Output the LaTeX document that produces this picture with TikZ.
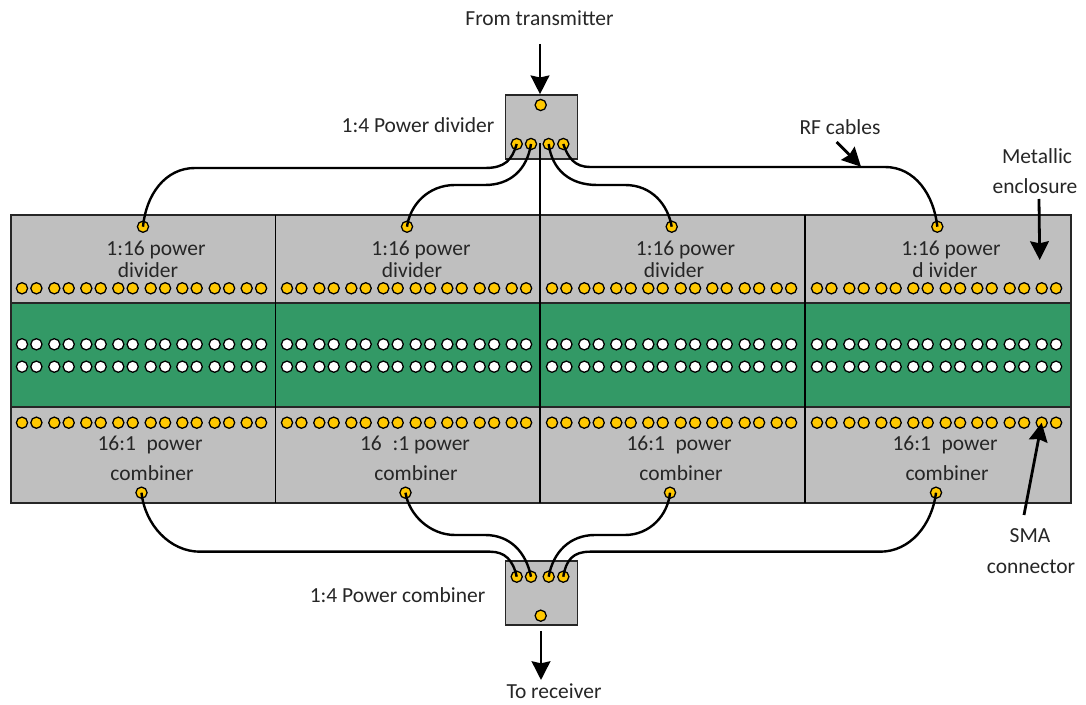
\documentclass[tikz,border=0pt]{standalone}
\usepackage{fontspec}
\setmainfont{Carlito}
\usetikzlibrary{arrows.meta}
\definecolor{boxgray}{HTML}{BFBFBF}
\definecolor{boardgreen}{HTML}{339966}
\definecolor{smayellow}{HTML}{FFC800}
\tikzset{
    port/.style={circle, draw=black, line width=0.95pt, fill=smayellow, minimum size=8.4pt, inner sep=0pt},
    hole/.style={port, fill=white},
    cable/.style={line width=1.8pt, black},
    pointer/.style={line width=2.1pt, black, -{Stealth[length=14pt, width=14pt, inset=1.5pt]}},
    label/.style={font=\fontsize{16.1pt}{18pt}\selectfont, text=black!85, inner sep=0pt},
    enclosure/.style={draw=black!85, line width=1.2pt, fill=boxgray}
}
\begin{document}
\begin{tikzpicture}[x=0.75pt, y=-0.75pt]
    \useasboundingbox (0,0) rectangle (1086,705);

    % Enclosures
    \draw[enclosure] (11,215) rectangle (1071,303);
    \draw[enclosure] (11,407) rectangle (1071,503);
    \draw[enclosure, fill=boardgreen] (11,303) rectangle (1071,407);
    \draw[line width=1.1pt] (275.5,215) -- (275.5,503);
    \draw[line width=1.9pt] (805,215) -- (805,503);

    % Connector rows of every panel
    \foreach \panel/\shift in {1/0, 2/265, 3/530, 4/795} {
        \foreach \pos [count=\i] in {22, 54.3, 86.3, 118.3, 150.7, 182.3, 214.7, 246.7} {
            \node[port] at (\pos+\shift,288.3) {};
            \node[port] at (\pos+14.4+\shift,288.3) {};
            \node[hole] at (\pos+\shift,344.3) {};
            \node[hole] at (\pos+14.4+\shift,344.3) {};
            \node[hole] at (\pos+\shift,366.7) {};
            \node[hole] at (\pos+14.4+\shift,366.7) {};
            \node[port] (sma\panel-\i) at (\pos+\shift,422.7) {};
            \node[port] at (\pos+14.4+\shift,422.7) {};
        }
    }

    % Ports of the panels
    \node[port] (in1) at (143,226.7) {};
    \node[port] (in2) at (407,226.7) {};
    \node[port] (in3) at (671.7,226.7) {};
    \node[port] (in4) at (937.3,226.7) {};
    \node[port] (out1) at (141.5,492.7) {};
    \node[port] (out2) at (405.5,492.7) {};
    \node[port] (out3) at (670,492.7) {};
    \node[port] (out4) at (936,492.7) {};

    % Power divider
    \node[enclosure, minimum width=54pt, minimum height=48pt, inner sep=0pt] (divider) at (541.3,127) {};
    \node[port] (divin) at (540.7,105) {};
    \node[port] (div1) at (516.7,144) {};
    \node[port] (div2) at (531,144) {};
    \node[port] (div3) at (548.7,144) {};
    \node[port] (div4) at (563.3,144) {};
    \draw[line width=1pt] (540,143) -- (540,503);

    % Power combiner
    \node[enclosure, minimum width=54pt, minimum height=48pt, inner sep=0pt] (combiner) at (541.3,593.3) {};
    \node[port] (comout) at (540.7,615.7) {};
    \node[port] (com1) at (516.7,576.7) {};
    \node[port] (com2) at (531,576.7) {};
    \node[port] (com3) at (548.7,576.7) {};
    \node[port] (com4) at (563.3,576.7) {};

    % RF cables
    \draw[cable] (div1.center) .. controls (512,160) and (505,168) .. (485,168) -- (195,168) .. controls (165,168) and (146,195) .. (in1.center);
    \draw[cable] (div2.center) .. controls (527,170) and (510,185) .. (485,185) -- (455,185) .. controls (428,185) and (410,205) .. (in2.center);
    \draw[cable] (div3.center) .. controls (552,170) and (570,185) .. (597,185) -- (625,185) .. controls (652,185) and (668,205) .. (in3.center);
    \draw[cable] (div4.center) .. controls (568,158) and (575,167) .. (590,167) -- (885,167) .. controls (915,167) and (934,195) .. (in4.center);
    \draw[cable] (out1.center) .. controls (145,525) and (170,551.7) .. (200,551.7) -- (490,551.7) .. controls (505,551.7) and (513,560) .. (com1.center);
    \draw[cable] (out2.center) .. controls (409,515) and (430,535) .. (455,535) -- (485,535) .. controls (510,535) and (526,552) .. (com2.center);
    \draw[cable] (com3.center) .. controls (553,552) and (570,535) .. (595,535) -- (625,535) .. controls (650,535) and (668,515) .. (out3.center);
    \draw[cable] (com4.center) .. controls (566,560) and (573,551.7) .. (590,551.7) -- (880,551.7) .. controls (910,551.7) and (932,525) .. (out4.center);

    % Texts
    \node[label] (from) at (539.5,18) {From transmitter};
    \node[label] (divlabel) at (418,125) {1:4 Power divider};
    \node[label] (rflabel) at (840,127) {RF cables};
    \node[label] (metal) at (1037,156) {Metallic};
    \node[label] (encl) at (1035,186) {enclosure};
    \node[label] (comlabel) at (397.5,595) {1:4 Power combiner};
    \node[label] (to) at (554,691) {To receiver};
    \node[label] (smalabel) at (1030,536) {SMA};
    \node[label] (smaconn) at (1031,567) {connector};

    \node[label] (power1) at (156,249.5) {1:16 power};
    \node[label] (power2) at (421,249.5) {1:16 power};
    \node[label] (power3) at (685.5,249.5) {1:16 power};
    \node[label] (power4) at (951,249.5) {1:16 power};
    \node[label] (name1) at (148,270) {divider};
    \node[label] (name2) at (412,270) {divider};
    \node[label] (name3) at (674,270) {divider};
    \node[label] (name4) at (945,270) {d ivider};
    \node[label] (comb1) at (150,445) {16:1\enspace power};
    \node[label] (comb2) at (415,445) {16\enspace:1 power};
    \node[label] (comb3) at (679,445) {16:1\enspace power};
    \node[label] (comb4) at (945,445) {16:1\enspace power};
    \node[label] (cname1) at (152,473) {combiner};
    \node[label] (cname2) at (416,473) {combiner};
    \node[label] (cname3) at (681,473) {combiner};
    \node[label] (cname4) at (947,473) {combiner};

    % Pointers
    \coordinate (fromtail) at (540,44);
    \coordinate (totail) at (541,631);
    \coordinate (rftail) at (836.7,142);
    \coordinate (rfhead) at (861,166.7);
    \coordinate (metaltail) at (1039,199);
    \coordinate (metalhead) at (1039.7,260);
    \coordinate (smatail) at (1024,515);
    \coordinate (tohead) at (541,680);
    \draw[pointer] (fromtail) -- (divider.north -| fromtail);
    \draw[pointer] (totail) -- (tohead);
    \draw[pointer] (rftail) -- (rfhead);
    \draw[pointer] (metaltail) -- (metalhead);
    \draw[pointer] (smatail) -- (sma4-8.center);
\end{tikzpicture}
\end{document}
